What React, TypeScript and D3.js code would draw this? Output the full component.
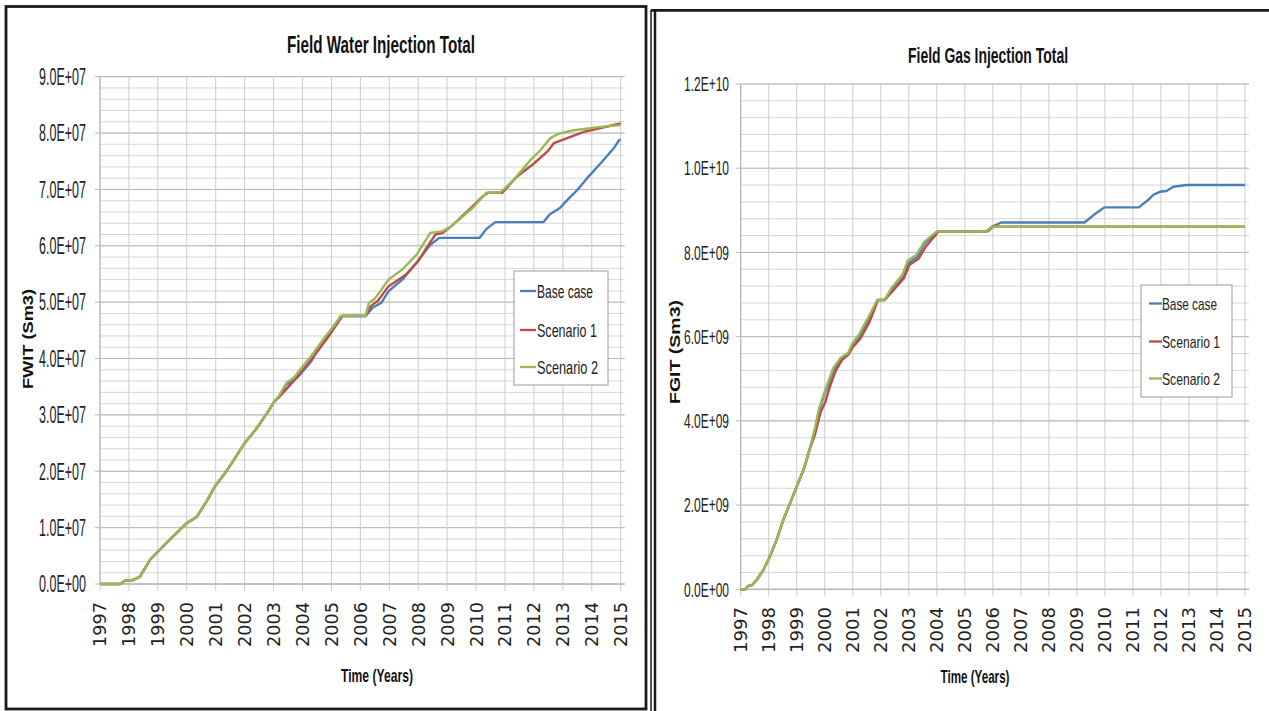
import React from "react";
import * as d3 from "d3";

// ---------- DATA ----------
const yearTicks = [1997, 1998, 1999, 2000, 2001, 2002, 2003, 2004, 2005, 2006, 2007, 2008, 2009, 2010, 2011, 2012, 2013, 2014, 2015];
const seriesNames = ["Base case", "Scenario 1", "Scenario 2"];
const seriesColors = ["#4A7EBB", "#BE4B48", "#98B954"];

// Field Water Injection Total (Sm3)
const fwitTicks = [0, 1e7, 2e7, 3e7, 4e7, 5e7, 6e7, 7e7, 8e7, 9e7];
const fwitTickLabels = ["0.0E+00", "1.0E+07", "2.0E+07", "3.0E+07", "4.0E+07", "5.0E+07", "6.0E+07", "7.0E+07", "8.0E+07", "9.0E+07"];
const fwitCommon: [number, number][] = [
  [1997.0, 0], [1997.7, 0], [1997.87, 0.06e7], [1998.15, 0.07e7], [1998.38, 0.13e7], [1998.73, 0.43e7],
  [1998.96, 0.55e7], [1999.3, 0.73e7], [1999.76, 0.96e7], [2000.0, 1.08e7], [2000.34, 1.19e7],
  [2000.68, 1.46e7], [2000.97, 1.73e7], [2001.3, 1.95e7], [2001.6, 2.18e7], [2002.0, 2.5e7],
  [2002.4, 2.75e7], [2002.85, 3.09e7], [2003.0, 3.22e7],
];
const fwitBase: [number, number][] = [
  [2003.2, 3.33e7], [2003.45, 3.54e7], [2003.82, 3.66e7], [2004.3, 3.95e7], [2004.67, 4.28e7],
  [2005.03, 4.54e7], [2005.33, 4.75e7], [2006.18, 4.75e7], [2006.42, 4.9e7], [2006.73, 4.99e7],
  [2006.97, 5.19e7], [2007.45, 5.4e7], [2007.94, 5.7e7], [2008.42, 6.02e7], [2008.73, 6.14e7],
  [2010.12, 6.14e7], [2010.36, 6.3e7], [2010.67, 6.42e7], [2012.33, 6.42e7], [2012.55, 6.56e7],
  [2012.9, 6.67e7], [2013.15, 6.81e7], [2013.5, 6.99e7], [2013.84, 7.2e7], [2014.3, 7.46e7],
  [2014.76, 7.73e7], [2014.95, 7.88e7], [2015.0, 7.88e7],
];
const fwitScen1: [number, number][] = [
  [2003.2, 3.32e7], [2003.76, 3.64e7], [2004.3, 3.98e7], [2004.9, 4.39e7], [2005.39, 4.76e7],
  [2006.18, 4.76e7], [2006.36, 4.93e7], [2006.6, 5.02e7], [2006.97, 5.28e7], [2007.58, 5.49e7],
  [2008.0, 5.73e7], [2008.36, 6.02e7], [2008.6, 6.2e7], [2008.85, 6.23e7], [2009.15, 6.35e7],
  [2009.88, 6.7e7], [2010.24, 6.88e7], [2010.42, 6.94e7], [2010.9, 6.94e7], [2011.42, 7.23e7],
  [2012.0, 7.46e7], [2012.46, 7.67e7], [2012.69, 7.82e7], [2013.15, 7.91e7], [2013.72, 8.02e7],
  [2014.3, 8.09e7], [2015.0, 8.17e7],
];
const fwitScen2: [number, number][] = [
  [2003.2, 3.35e7], [2003.45, 3.57e7], [2003.7, 3.66e7], [2004.0, 3.86e7], [2004.3, 4.04e7],
  [2004.79, 4.39e7], [2005.03, 4.54e7], [2005.33, 4.76e7], [2006.18, 4.76e7], [2006.3, 4.99e7],
  [2006.48, 5.05e7], [2006.73, 5.22e7], [2006.97, 5.4e7], [2007.45, 5.58e7], [2007.94, 5.84e7],
  [2008.42, 6.23e7], [2008.85, 6.26e7], [2009.15, 6.35e7], [2009.88, 6.67e7], [2010.36, 6.94e7],
  [2010.85, 6.95e7], [2011.3, 7.17e7], [2011.88, 7.52e7], [2012.23, 7.7e7], [2012.57, 7.91e7],
  [2012.86, 7.99e7], [2013.38, 8.05e7], [2014.3, 8.11e7], [2015.0, 8.14e7],
];

// Field Gas Injection Total (Sm3)
const fgitTicks = [0, 2e9, 4e9, 6e9, 8e9, 1e10, 1.2e10];
const fgitTickLabels = ["0.0E+00", "2.0E+09", "4.0E+09", "6.0E+09", "8.0E+09", "1.0E+10", "1.2E+10"];
const fgitCommon: [number, number][] = [
  [1997.0, 0], [1997.15, 0], [1997.27, 0.08e9], [1997.39, 0.09e9], [1997.57, 0.22e9], [1997.81, 0.46e9],
  [1998.05, 0.79e9], [1998.28, 1.17e9], [1998.52, 1.65e9], [1998.76, 2.04e9], [1999.0, 2.44e9],
  [1999.25, 2.85e9], [1999.45, 3.3e9],
];
const fgitBase: [number, number][] = [
  [1999.66, 3.78e9], [1999.81, 4.26e9], [2000.0, 4.65e9], [2000.33, 5.21e9], [2000.59, 5.49e9],
  [2000.85, 5.6e9], [2000.98, 5.8e9], [2001.24, 6.0e9], [2001.56, 6.4e9], [2001.88, 6.87e9],
  [2002.14, 6.87e9], [2002.4, 7.11e9], [2002.79, 7.43e9], [2002.98, 7.74e9], [2003.31, 7.9e9],
  [2003.57, 8.22e9], [2004.02, 8.5e9], [2005.77, 8.5e9], [2005.96, 8.61e9], [2006.29, 8.71e9],
  [2009.27, 8.71e9], [2009.72, 8.95e9], [2009.98, 9.07e9], [2011.21, 9.07e9], [2011.55, 9.25e9],
  [2011.73, 9.37e9], [2011.96, 9.44e9], [2012.2, 9.46e9], [2012.44, 9.56e9], [2012.92, 9.6e9],
  [2015.0, 9.6e9],
];
const fgitScen1: [number, number][] = [
  [1999.66, 3.7e9], [1999.85, 4.2e9], [2000.02, 4.45e9], [2000.2, 4.85e9], [2000.4, 5.2e9],
  [2000.62, 5.45e9], [2000.85, 5.58e9], [2001.0, 5.75e9], [2001.27, 5.95e9], [2001.6, 6.35e9],
  [2001.9, 6.87e9], [2002.14, 6.87e9], [2002.42, 7.08e9], [2002.82, 7.38e9], [2003.02, 7.7e9],
  [2003.35, 7.85e9], [2003.62, 8.15e9], [2004.06, 8.5e9], [2005.82, 8.5e9], [2006.0, 8.61e9],
  [2015.0, 8.61e9],
];
const fgitScen2: [number, number][] = [
  [1999.64, 3.8e9], [1999.8, 4.3e9], [2000.0, 4.7e9], [2000.3, 5.25e9], [2000.57, 5.5e9],
  [2000.84, 5.62e9], [2000.97, 5.82e9], [2001.22, 6.05e9], [2001.55, 6.45e9], [2001.87, 6.87e9],
  [2002.13, 6.87e9], [2002.38, 7.15e9], [2002.77, 7.47e9], [2002.96, 7.8e9], [2003.28, 7.95e9],
  [2003.55, 8.25e9], [2004.0, 8.5e9], [2005.77, 8.5e9], [2005.96, 8.61e9], [2015.0, 8.61e9],
];

const fwitSeries = [fwitCommon.concat(fwitBase), fwitCommon.concat(fwitScen1), fwitCommon.concat(fwitScen2)];
const fgitSeries = [fgitCommon.concat(fgitBase), fgitCommon.concat(fgitScen1), fgitCommon.concat(fgitScen2)];

// ---------- COMPONENTS ----------
const FONT = "'Liberation Sans', Arial, sans-serif";
const TICKFONT = "'DejaVu Sans', Verdana, sans-serif";

type PanelProps = {
  title: string;
  yTitle: string;
  series: [number, number][][];
  ticks: number[];
  tickLabels: string[];
  minorStep: number;
  px0: number; px1: number; py0: number; py1: number;
  titleX: number; titleY: number; titleW: number; titleSize: number;
  yTitleX: number; yTitleY: number; yTitleW: number;
  xTitleX: number; xTitleY: number; xTitleW: number;
  yLabelRight: number; yLabelW: number; yLabelSize: number;
  xLabelTop: number; xLabelLen: number; xLabelSize: number;
  legend: { x: number; y: number; w: number; h: number; lineX0: number; lineX1: number; textX: number; rows: number[]; textW: number[]; size: number };
};

function Panel(p: PanelProps) {
  const x = d3.scaleLinear().domain([1997, 2015]).range([p.px0, p.px1]);
  const yMax = p.ticks[p.ticks.length - 1];
  const y = d3.scaleLinear().domain([0, yMax]).range([p.py0, p.py1]);
  const minor = d3.range(0, yMax + p.minorStep / 2, p.minorStep);
  const line = d3.line<[number, number]>().x((d) => x(d[0])).y((d) => y(d[1]));
  const right = p.px1 + 4;
  return (
    <g>
      {minor.map((v, i) => (
        <line key={"mn" + i} x1={p.px0} x2={right} y1={y(v)} y2={y(v)} stroke="#d6d6d6" strokeWidth={1} />
      ))}
      {p.ticks.map((v, i) => (
        <line key={"mj" + i} x1={p.px0 - 5} x2={right} y1={y(v)} y2={y(v)} stroke="#b8b8b8" strokeWidth={1} />
      ))}
      {yearTicks.map((t) => (
        <line key={"vx" + t} x1={x(t)} x2={x(t)} y1={p.py1} y2={p.py0 + 7} stroke="#cccccc" strokeWidth={1} />
      ))}
      <line x1={p.px0} x2={p.px0} y1={p.py1} y2={p.py0} stroke="#b0b0b0" strokeWidth={1} />
      <line x1={p.px0} x2={right} y1={p.py0} y2={p.py0} stroke="#b0b0b0" strokeWidth={1} />
      {p.series.map((s, i) => (
        <path key={"s" + i} d={line(s) || ""} fill="none" stroke={seriesColors[i]} strokeWidth={2.4} strokeLinejoin="round" />
      ))}
      {p.ticks.map((v, i) => (
        <text key={"yl" + i} x={p.yLabelRight} y={y(v) + p.yLabelSize * 0.36} textAnchor="end" fontFamily={FONT}
          fontSize={p.yLabelSize} textLength={p.yLabelW} lengthAdjust="spacingAndGlyphs" fill="#222">
          {p.tickLabels[i]}
        </text>
      ))}
      {yearTicks.map((t) => (
        <text key={"xl" + t} transform={`translate(${x(t) + p.xLabelSize * 0.37},${p.xLabelTop}) rotate(-90)`}
          textAnchor="end" fontFamily={TICKFONT} fontSize={p.xLabelSize} textLength={p.xLabelLen}
          lengthAdjust="spacingAndGlyphs" fill="#222">
          {String(t)}
        </text>
      ))}
      <text x={p.titleX} y={p.titleY} textAnchor="middle" fontFamily={FONT} fontWeight="bold" fontSize={p.titleSize}
        textLength={p.titleW} lengthAdjust="spacingAndGlyphs" fill="#111">{p.title}</text>
      <text x={p.xTitleX} y={p.xTitleY} textAnchor="middle" fontFamily={FONT} fontWeight="bold" fontSize={19}
        textLength={p.xTitleW} lengthAdjust="spacingAndGlyphs" fill="#111">Time (Years)</text>
      <text transform={`translate(${p.yTitleX},${p.yTitleY}) rotate(-90)`} textAnchor="middle" fontFamily={FONT}
        fontWeight="bold" fontSize={14} textLength={p.yTitleW} lengthAdjust="spacingAndGlyphs" fill="#111">{p.yTitle}</text>
      <rect x={p.legend.x} y={p.legend.y} width={p.legend.w} height={p.legend.h} fill="#fff" stroke="#9a9a9a" strokeWidth={1} />
      {seriesNames.map((n, i) => (
        <g key={"lg" + i}>
          <line x1={p.legend.lineX0} x2={p.legend.lineX1} y1={p.legend.rows[i]} y2={p.legend.rows[i]} stroke={seriesColors[i]} strokeWidth={2.3} />
          <text x={p.legend.textX} y={p.legend.rows[i] + p.legend.size * 0.36} fontFamily={FONT} fontSize={p.legend.size}
            textLength={p.legend.textW[i]} lengthAdjust="spacingAndGlyphs" fill="#222">{n}</text>
        </g>
      ))}
    </g>
  );
}

export default function App() {
  return (
    <svg width={1269} height={711} style={{ position: "absolute", left: 0, top: 0, background: "#fff" }}>
      <rect x={0} y={0} width={1269} height={711} fill="#fff" />
      <Panel
        title="Field Water Injection Total" yTitle="FWIT (Sm3)" series={fwitSeries}
        ticks={fwitTicks} tickLabels={fwitTickLabels} minorStep={2e6}
        px0={100} px1={620.7} py0={584} py1={76.7}
        titleX={381} titleY={52.5} titleW={188} titleSize={23}
        yTitleX={33} yTitleY={339} yTitleW={100}
        xTitleX={377} xTitleY={681.5} xTitleW={72}
        yLabelRight={86} yLabelW={47} yLabelSize={23}
        xLabelTop={602} xLabelLen={45} xLabelSize={17.5}
        legend={{ x: 514, y: 271, w: 94, h: 114, lineX0: 520, lineX1: 536, textX: 537, rows: [291, 330, 367], textW: [56, 60, 61], size: 19 }}
      />
      <Panel
        title="Field Gas Injection Total" yTitle="FGIT (Sm3)" series={fgitSeries}
        ticks={fgitTicks} tickLabels={fgitTickLabels} minorStep={4e8}
        px0={740.7} px1={1245} py0={589.3} py1={84}
        titleX={988} titleY={62.7} titleW={160} titleSize={22}
        yTitleX={680} yTitleY={352} yTitleW={104}
        xTitleX={975} xTitleY={683} xTitleW={69}
        yLabelRight={729} yLabelW={45} yLabelSize={20}
        xLabelTop={607} xLabelLen={46} xLabelSize={17.5}
        legend={{ x: 1141, y: 285, w: 91, h: 112, lineX0: 1149, lineX1: 1162, textX: 1162, rows: [303.5, 341.5, 378.5], textW: [55, 58, 58], size: 17 }}
      />
      {/* panel frames */}
      <rect x={6} y={6.5} width={640} height={702.5} fill="none" stroke="#1a1a1a" strokeWidth={2.8} />
      <line x1={651} x2={651} y1={10} y2={711} stroke="#1a1a1a" strokeWidth={1.5} />
      <line x1={655} x2={655} y1={10} y2={711} stroke="#1a1a1a" strokeWidth={2.5} />
      <line x1={651} x2={1269} y1={10.3} y2={10.3} stroke="#1a1a1a" strokeWidth={2.8} />
    </svg>
  );
}
